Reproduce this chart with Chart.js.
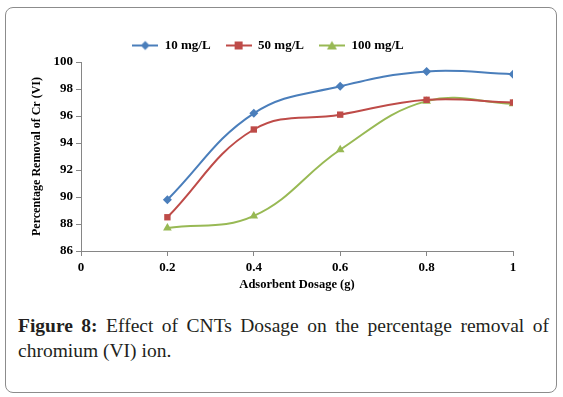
<!DOCTYPE html>
<html>
<head>
<meta charset="utf-8">
<script src="https://cdn.jsdelivr.net/npm/chart.js@4"></script>
<style>
  body { margin: 0; background: #fff; }
  #wrap { position: relative; width: 563px; height: 397px; overflow: hidden; }
  #frame {
    position: absolute; left: 5px; top: 7px; width: 552px; height: 386px;
    box-sizing: border-box; border: 1px solid #8c8c8c; border-radius: 8px;
  }
  #chartBox { position: absolute; left: 0; top: 0; width: 563px; height: 300px; }
  #caption {
    position: absolute; left: 18px; top: 313px; width: 531px;
    font-family: "Liberation Serif", serif; font-size: 19.5px; color: #231f20;
    line-height: 25px;
  }
  #caption .l1 { text-align: justify; text-align-last: justify; white-space: nowrap; }
  #caption b { font-weight: bold; }
</style>
</head>
<body>
<div id="wrap">
  <div id="frame"></div>
  <div id="chartBox"><canvas id="myChart" width="563" height="300"></canvas></div>
  <div id="caption">
    <div class="l1"><b>Figure 8:</b> Effect of CNTs Dosage on the percentage removal of</div>
    <div>chromium (VI) ion.</div>
  </div>
</div>
<script>
// adatok
const dosage = [0.2, 0.4, 0.6, 0.8, 1];
const seriesNames = ['10 mg/L', '50 mg/L', '100 mg/L'];
const conc10 = [89.8, 96.2, 98.2, 99.3, 99.1];
const conc50 = [88.5, 95.0, 96.1, 97.2, 97.0];
const conc100 = [87.7, 88.6, 93.5, 97.1, 96.9];
const xTicks = [0, 0.2, 0.4, 0.6, 0.8, 1];
const yTicks = [86, 88, 90, 92, 94, 96, 98, 100];

const colors = ['#4a7ebb', '#be4b48', '#98b954'];
const markers = ['rectRot', 'rect', 'triangle'];
const markerSize = [4.5, 4.5, 5];
const font = 'Liberation Serif';

// jelmagyarázat ikon: vonal + jelölő
function legendIcon(color, style) {
    const c = document.createElement('canvas');
    c.width = 26; c.height = 12;
    const g = c.getContext('2d');
    g.strokeStyle = color; g.fillStyle = color; g.lineWidth = 2;
    g.beginPath(); g.moveTo(0, 6); g.lineTo(26, 6); g.stroke();
    g.beginPath();
    if (style === 'rectRot') {
        g.moveTo(13, 1.5); g.lineTo(17.5, 6); g.lineTo(13, 10.5); g.lineTo(8.5, 6);
    } else if (style === 'rect') {
        g.rect(9, 2, 8, 8);
    } else {
        g.moveTo(13, 1.5); g.lineTo(18, 10); g.lineTo(8, 10);
    }
    g.closePath(); g.fill();
    return c;
}

const allData = [conc10, conc50, conc100];
const datasets = allData.map((vals, i) => ({
    label: seriesNames[i],
    data: dosage.map((x, j) => ({ x: x, y: vals[j] })),
    borderColor: colors[i],
    backgroundColor: colors[i],
    borderWidth: 2,
    pointStyle: markers[i],
    pointRadius: markerSize[i],
    pointBorderWidth: 0,
    tension: 0.4,
    fill: false
}));

const ctx = document.getElementById('myChart').getContext('2d');
const chart = new Chart(ctx, {
    type: 'line',
    data: { datasets: datasets },
    options: {
        responsive: false,
        animation: false,
        layout: { padding: { left: 23, right: 50, top: 24, bottom: 4 } },
        scales: {
            x: {
                type: 'linear',
                min: 0, max: 1,
                afterBuildTicks: s => { s.ticks = xTicks.map(v => ({ value: v })); },
                afterFit: s => { s.height = 45; },
                border: { color: '#868686', width: 1 },
                grid: { drawOnChartArea: false, drawTicks: true, tickLength: 5, color: '#868686' },
                ticks: {
                    color: '#000', padding: 4,
                    font: { family: font, size: 13, weight: 'bold' },
                    callback: v => String(v)
                },
                title: {
                    display: true, text: 'Adsorbent Dosage (g)', color: '#000',
                    font: { family: font, size: 12.5, weight: 'bold' }, padding: { top: 0 }
                }
            },
            y: {
                min: 86, max: 100,
                afterBuildTicks: s => { s.ticks = yTicks.map(v => ({ value: v })); },
                afterFit: s => { s.width = 58; },
                border: { color: '#868686', width: 1 },
                grid: { drawOnChartArea: false, drawTicks: true, tickLength: 5, color: '#868686' },
                ticks: {
                    color: '#000', padding: 3,
                    font: { family: font, size: 13, weight: 'bold' }
                },
                title: {
                    display: true, text: 'Percentage Removal of Cr (VI)', color: '#000',
                    font: { family: font, size: 12, weight: 'bold' }, padding: { top: 7, bottom: 0 }
                }
            }
        },
        plugins: {
            tooltip: { enabled: false },
            legend: {
                position: 'top',
                labels: {
                    usePointStyle: true,
                    pointStyleWidth: 26,
                    padding: 15,
                    color: '#000',
                    font: { family: font, size: 13, weight: 'bold' },
                    generateLabels: c => c.data.datasets.map((d, i) => ({
                        text: d.label,
                        pointStyle: legendIcon(colors[i], markers[i]),
                        fillStyle: colors[i],
                        strokeStyle: colors[i],
                        lineWidth: 0,
                        datasetIndex: i,
                        fontColor: '#000'
                    }))
                }
            }
        }
    }
});

// jelmagyarázat magasságának rögzítése
const origFit = chart.legend.fit;
chart.legend.fit = function() {
    origFit.call(this);
    this.height = 38;
};
chart.update();
</script>
</body>
</html>
